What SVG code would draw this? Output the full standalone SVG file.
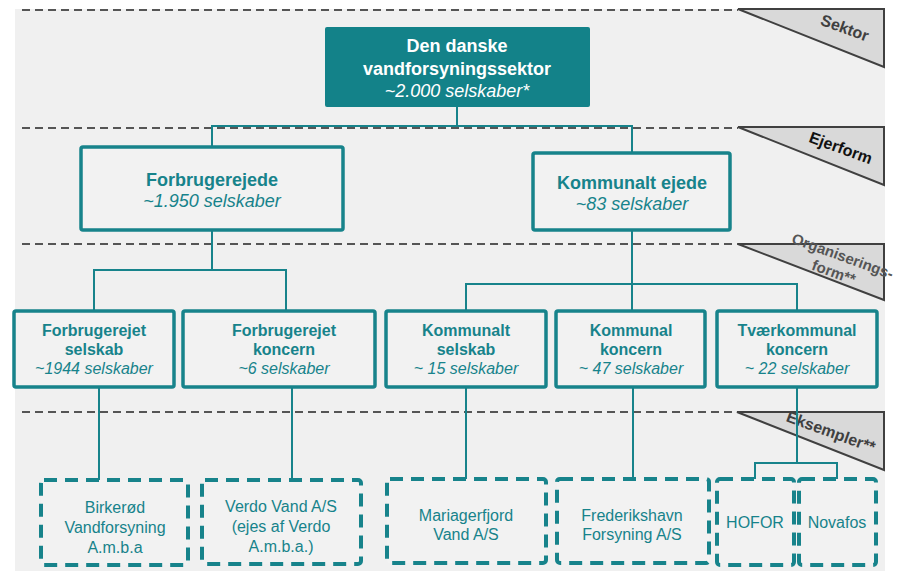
<svg xmlns="http://www.w3.org/2000/svg" width="900" height="571" viewBox="0 0 900 571">
<style>
.sep{stroke:#555;stroke-width:2;stroke-dasharray:8 5;fill:none}
.tri{fill:#d9d9d9;stroke:#404040;stroke-width:2}
.tl{font-family:"Liberation Sans",Arial,sans-serif;font-weight:bold;font-size:16px;fill:#404040}
.conn{stroke:#17838b;stroke-width:2;fill:none}
.box{fill:#f2f2f2;stroke:#17838b;stroke-width:3.5}
.dbox{fill:#f2f2f2;stroke:#17838b;stroke-width:4;stroke-dasharray:13 8}
.t{font-family:"Liberation Sans",Arial,sans-serif;fill:#17838b;text-anchor:middle}
.b{font-weight:bold}
.i{font-style:italic}
.w{fill:#ffffff}
</style>
<rect x="0" y="0" width="900" height="571" fill="#ffffff"/>
<rect x="15" y="9" width="870" height="562" fill="#f0f0f0"/>
<g id="separators">
<line class="sep" x1="22" y1="10" x2="738" y2="10"/>
<line class="sep" x1="22" y1="128" x2="738" y2="128"/>
<line class="sep" x1="22" y1="244" x2="738" y2="244"/>
<line class="sep" x1="22" y1="412" x2="738" y2="412"/>
</g>
<g id="labels">
<polygon class="tri" points="738,9 884,9 884,67"/>
<text class="tl" transform="translate(843,33) rotate(20)" text-anchor="middle">Sektor</text>
<polygon class="tri" points="738,127 884,127 884,185"/>
<text class="tl" transform="translate(839,153) rotate(20)" text-anchor="middle" style="fill:#111">Ejerform</text>
<polygon class="tri" points="738,244 884,244 884,300"/>
<text class="tl" transform="translate(841,261) rotate(20)" text-anchor="middle" style="fill:#555;font-size:15px">Organiserings-</text>
<text class="tl" transform="translate(832,277) rotate(20)" text-anchor="middle" style="fill:#555;font-size:15px">form**</text>
<polygon class="tri" points="737,412 884,412 884,470"/>
<text class="tl" transform="translate(829,437) rotate(20)" text-anchor="middle">Eksempler**</text>
</g>
<g id="connectors">
<polyline class="conn" points="457,107 457,126 212,126 212,147"/>
<polyline class="conn" points="457,126 632,126 632,153"/>
<polyline class="conn" points="212,230 212,270 94,270 94,311"/>
<polyline class="conn" points="212,270 286,270 286,311"/>
<polyline class="conn" points="632,230 632,284 466,284 466,311"/>
<polyline class="conn" points="632,284 797,284 797,311"/>
<line class="conn" x1="632" y1="284" x2="632" y2="311"/>
<line class="conn" x1="99" y1="387" x2="99" y2="480"/>
<line class="conn" x1="292" y1="387" x2="292" y2="480"/>
<line class="conn" x1="466" y1="387" x2="466" y2="479"/>
<line class="conn" x1="633" y1="387" x2="633" y2="479"/>
<polyline class="conn" points="797,387 797,463 755,463 755,479"/>
<polyline class="conn" points="797,463 837,463 837,479"/>
</g>
<g id="sector">
<rect x="325" y="27" width="265" height="80" rx="2" fill="#138289"/>
<text class="t b w" x="457" y="52" font-size="18">Den danske</text>
<text class="t b w" x="457" y="75" font-size="18">vandforsyningssektor</text>
<text class="t i w" x="457" y="97" font-size="18">~2.000 selskaber*</text>
</g>
<g id="forbrugerejede">
<rect class="box" x="81" y="147" width="262" height="83" rx="2"/>
<text class="t b" x="212" y="186" font-size="18">Forbrugerejede</text>
<text class="t i" x="212" y="207" font-size="18">~1.950 selskaber</text>
</g>
<g id="kommunalt-ejede">
<rect class="box" x="533" y="153" width="197" height="77" rx="2"/>
<text class="t b" x="632" y="189" font-size="18">Kommunalt ejede</text>
<text class="t i" x="632" y="210" font-size="18">~83 selskaber</text>
</g>
<g id="forbrugerejet-selskab">
<rect class="box" x="14" y="311" width="160" height="76" rx="2"/>
<text class="t b" x="94" y="336" font-size="16">Forbrugerejet</text>
<text class="t b" x="94" y="355" font-size="16">selskab</text>
<text class="t i" x="94" y="374" font-size="16">~1944 selskaber</text>
</g>
<g id="forbrugerejet-koncern">
<rect class="box" x="183" y="311" width="192" height="76" rx="2"/>
<text class="t b" x="284" y="336" font-size="16">Forbrugerejet</text>
<text class="t b" x="284" y="355" font-size="16">koncern</text>
<text class="t i" x="284" y="374" font-size="16">~6 selskaber</text>
</g>
<g id="kommunalt-selskab">
<rect class="box" x="386" y="311" width="160" height="76" rx="2"/>
<text class="t b" x="466" y="336" font-size="16">Kommunalt</text>
<text class="t b" x="466" y="355" font-size="16">selskab</text>
<text class="t i" x="466" y="374" font-size="16">~ 15 selskaber</text>
</g>
<g id="kommunal-koncern">
<rect class="box" x="556" y="311" width="149" height="76" rx="2"/>
<text class="t b" x="631" y="336" font-size="16">Kommunal</text>
<text class="t b" x="631" y="355" font-size="16">koncern</text>
<text class="t i" x="631" y="374" font-size="16">~ 47 selskaber</text>
</g>
<g id="tvaerkommunal-koncern">
<rect class="box" x="717" y="311" width="160" height="76" rx="2"/>
<text class="t b" x="797" y="336" font-size="16">Tværkommunal</text>
<text class="t b" x="797" y="355" font-size="16">koncern</text>
<text class="t i" x="797" y="374" font-size="16">~ 22 selskaber</text>
</g>
<g id="birkerod">
<rect class="dbox" x="41" y="480" width="147" height="85" rx="3"/>
<text class="t" x="115" y="513" font-size="16">Birkerød</text>
<text class="t" x="115" y="533" font-size="16">Vandforsyning</text>
<text class="t" x="115" y="553" font-size="16">A.m.b.a</text>
</g>
<g id="verdo">
<rect class="dbox" x="202" y="480" width="159" height="84" rx="3"/>
<text class="t" x="281" y="512" font-size="16">Verdo Vand A/S</text>
<text class="t" x="281" y="532" font-size="16">(ejes af Verdo</text>
<text class="t" x="281" y="552" font-size="16">A.m.b.a.)</text>
</g>
<g id="mariagerfjord">
<rect class="dbox" x="387" y="479" width="159" height="84" rx="3"/>
<text class="t" x="466" y="521" font-size="16">Mariagerfjord</text>
<text class="t" x="466" y="540" font-size="16">Vand A/S</text>
</g>
<g id="frederikshavn">
<rect class="dbox" x="557" y="479" width="152" height="84" rx="3"/>
<text class="t" x="632" y="521" font-size="16">Frederikshavn</text>
<text class="t" x="632" y="540" font-size="16">Forsyning A/S</text>
</g>
<g id="hofor">
<rect class="dbox" x="717" y="479" width="77" height="86" rx="3"/>
<text class="t" x="755" y="528" font-size="16">HOFOR</text>
</g>
<g id="novafos">
<rect class="dbox" x="799" y="479" width="77" height="86" rx="3"/>
<text class="t" x="837" y="528" font-size="16">Novafos</text>
</g>
</svg>
